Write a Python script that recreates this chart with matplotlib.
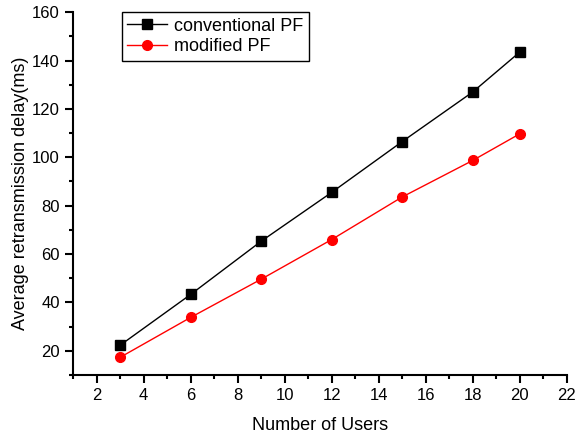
import numpy as np
import matplotlib.pyplot as plt
from matplotlib.ticker import MultipleLocator

plt.rcParams['font.family'] = ['Liberation Sans', 'DejaVu Sans']

users = [3, 6, 9, 12, 15, 18, 20]
conventional = [22.3, 43.3, 65.3, 85.5, 106.5, 127.0, 143.5]
modified = [17.3, 33.8, 49.6, 66.0, 83.6, 98.7, 109.7]

fig = plt.figure(figsize=(5.76, 4.34), dpi=100)
ax = fig.add_axes([0.127, 0.136, 0.857, 0.836])

ax.plot(users, conventional, 'k-', marker='s', markersize=6.5, linewidth=1,
        label='conventional PF')
ax.plot(users, modified, 'r-', marker='o', markersize=7, linewidth=1,
        label='modified PF')

ax.set_xlim(1, 22)
ax.set_ylim(10, 160)
ax.xaxis.set_major_locator(MultipleLocator(2))
ax.xaxis.set_minor_locator(MultipleLocator(1))
ax.yaxis.set_major_locator(MultipleLocator(20))
ax.yaxis.set_minor_locator(MultipleLocator(10))

for s in ['top', 'right']:
    ax.spines[s].set_visible(False)
for s in ['left', 'bottom']:
    ax.spines[s].set_linewidth(1.5)

ax.tick_params(which='major', direction='out', length=6, width=1.5, labelsize=12)
ax.tick_params(which='minor', direction='out', length=3, width=1.5)

ax.set_xlabel('Number of Users', fontsize=13, labelpad=10)
ax.set_ylabel('Average retransmission delay(ms)', fontsize=13, labelpad=2)

leg = ax.legend(loc='upper left', bbox_to_anchor=(0.099, 1.0), borderaxespad=0,
                fontsize=13, fancybox=False, framealpha=1, edgecolor='black',
                handlelength=2.2, handletextpad=0.4, borderpad=0.3,
                labelspacing=0.2)
leg.get_frame().set_linewidth(1)

fig.savefig('out.png', dpi=100)
